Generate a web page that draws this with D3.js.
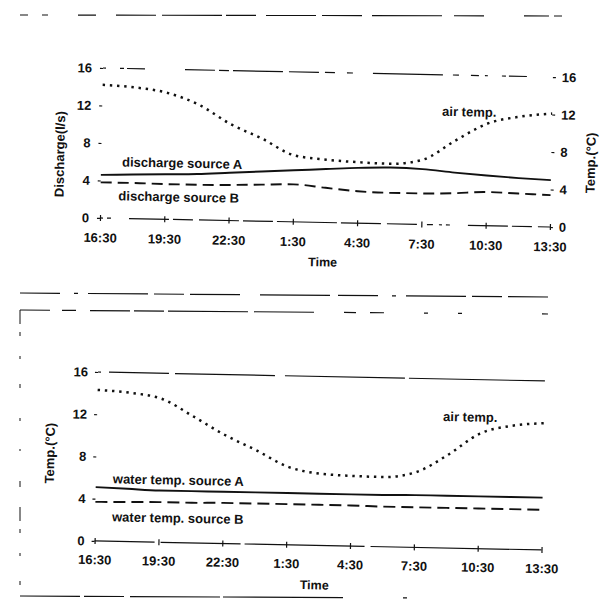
<!DOCTYPE html>
<html>
<head>
<meta charset="utf-8">
<script src="https://cdn.jsdelivr.net/npm/d3@7/dist/d3.min.js"></script>
<style>
  html, body { margin: 0; padding: 0; background: #fff; }
  svg { display: block; }
  text { font-family: "Liberation Sans", Arial, sans-serif; fill: #111; }
</style>
</head>
<body>
<svg id="chart" width="603" height="606"></svg>
<script>
// ---- data (hours after 16:30) ----
const hours = [0, 1.5, 3, 4.5, 6, 7.5, 9, 10.5, 12, 13.5, 15, 16.5, 18, 19.5, 21];
const timeTickHours = [0, 3, 6, 9, 12, 15, 18, 21];
const timeLabels = ["16:30", "19:30", "22:30", "1:30", "4:30", "7:30", "10:30", "13:30"];
const yTicks = [0, 4, 8, 12, 16];

// top panel
const dischargeA = [4.6, 4.7, 4.8, 4.9, 5.1, 5.3, 5.5, 5.7, 5.9, 6.0, 5.9, 5.6, 5.35, 5.15, 5.0];
const dischargeB = [3.8, 3.8, 3.75, 3.75, 3.8, 3.9, 4.0, 3.7, 3.4, 3.3, 3.3, 3.4, 3.6, 3.5, 3.4];
const airTempTop = [14.2, 14.0, 13.5, 12.3, 10.3, 8.8, 7.1, 6.7, 6.5, 6.4, 6.9, 9.0, 10.9, 11.7, 12.1];

// bottom panel
const airTempBottom = [14.3, 14.1, 13.6, 12.0, 10.3, 8.9, 7.4, 6.8, 6.65, 6.6, 7.1, 8.8, 10.9, 11.7, 12.0];
const waterTempA = [5.1, 5.0, 4.9, 4.9, 4.9, 4.9, 4.9, 4.9, 4.9, 4.9, 4.95, 4.95, 4.95, 4.95, 4.95];
const waterTempB = [3.7, 3.75, 3.8, 3.8, 3.85, 3.85, 3.85, 3.85, 3.85, 3.8, 3.8, 3.8, 3.8, 3.8, 3.8];

const svg = d3.select("#chart");
const ink = "#111";

// ---- scanned frame lines ----
const frame = svg.append("g").attr("stroke", ink).attr("fill", "none");
frame.append("line").attr("x1", 20).attr("y1", 15).attr("x2", 576).attr("y2", 16)
  .attr("stroke-width", 1.1).attr("stroke-dasharray", "8,14,6,30,18,20,40,6,60,4,30,10,50,6,40,10,70,12,30,40,25,5");
frame.append("line").attr("x1", 20).attr("y1", 293).attr("x2", 548).attr("y2", 297)
  .attr("stroke-width", 1.2).attr("stroke-dasharray", "40,14,4,10,60,6,30,6,50,20,70,8");
frame.append("line").attr("x1", 20).attr("y1", 310).attr("x2", 548).attr("y2", 314)
  .attr("stroke-width", 1.2).attr("stroke-dasharray", "30,12,14,14,40,4,30,4,80,6,60");
frame.append("line").attr("x1", 20).attr("y1", 310).attr("x2", 20).attr("y2", 592)
  .attr("stroke-width", 1).attr("stroke-dasharray", "14,8,4,20,3,25,4,30,3,28,2,30,6,20");
frame.append("line").attr("x1", 20).attr("y1", 596).attr("x2", 420).attr("y2", 598)
  .attr("stroke-width", 1.2).attr("stroke-dasharray", "60,4,40,6,90,3,120");

function styleAxis(a) {
  a.selectAll(".tick line").attr("stroke", ink).attr("stroke-width", 1.2);
  a.selectAll(".tick text").attr("font-size", 13).attr("font-weight", "bold").attr("fill", ink);
}

function panel(opts) {
  const g = svg.append("g").attr("transform", opts.rotate);
  const x = d3.scaleLinear().domain([0, 21]).range(opts.xr);
  const y = d3.scaleLinear().domain([0, 16]).range(opts.yr);

  g.append("line").attr("x1", x(0)).attr("x2", x(21)).attr("y1", y(16)).attr("y2", y(16))
    .attr("stroke", ink).attr("stroke-width", 1.2).attr("stroke-dasharray", opts.topDash);
  g.append("line").attr("x1", x(0)).attr("x2", x(21)).attr("y1", y(0)).attr("y2", y(0))
    .attr("stroke", ink).attr("stroke-width", 1.2).attr("stroke-dasharray", opts.botDash);

  const la = g.append("g").attr("transform", `translate(${x(0)},0)`)
    .call(d3.axisLeft(y).tickValues(yTicks).tickSize(3).tickPadding(opts.lpad));
  la.select(".domain").remove();
  styleAxis(la);

  if (opts.rightAxis) {
    const ra = g.append("g").attr("transform", `translate(${x(21)},0)`)
      .call(d3.axisRight(y).tickValues(yTicks).tickSize(3).tickPadding(6));
    ra.select(".domain").remove();
    styleAxis(ra);
  }

  const ba = g.append("g").attr("transform", `translate(0,${y(0)})`)
    .call(d3.axisBottom(x).tickValues(timeTickHours).tickFormat((d, i) => timeLabels[i])
      .tickSize(3).tickPadding(opts.bpad));
  ba.select(".domain").remove();
  ba.selectAll(".tick line").attr("y1", -3);
  styleAxis(ba);

  const line = d3.line().x((d, i) => x(hours[i])).y(d => y(d)).curve(d3.curveMonotoneX);
  const draw = (data, dash, w) => g.append("path").datum(data).attr("d", line)
    .attr("fill", "none").attr("stroke", ink).attr("stroke-width", w)
    .attr("stroke-dasharray", dash);

  return { g, x, y, draw };
}

function label(g, txt, x, y, size, rot) {
  const t = g.append("text").text(txt).attr("font-size", size).attr("font-weight", "bold");
  if (rot) t.attr("transform", `translate(${x},${y}) rotate(-90)`).attr("text-anchor", "middle");
  else t.attr("x", x).attr("y", y);
  return t;
}

// ---- top panel ----
const topPanel = panel({
  rotate: "rotate(1.15,103,68)", xr: [103, 553], yr: [218, 68],
  lpad: 8, bpad: 12, rightAxis: true,
  topDash: "3,14,4,3,18,40,30,4,10,4,50,6,30,6,10,12,6,20,70,10,6,12,8,6",
  botDash: "3,4,4,18,40,4,20,6,40,4,30,4,60,4,40,6,30,10,6,6"
});
topPanel.draw(dischargeA, null, 1.9);
topPanel.draw(dischargeB, "11,6", 1.9);
topPanel.draw(airTempTop, "2.4,4.8", 2.5);
label(topPanel.g, "discharge source A", 124, 166, 13);
label(topPanel.g, "discharge source B", 121, 200, 13);
label(topPanel.g, "air temp.", 443, 109, 13);
label(topPanel.g, "Discharge(l/s)", 66, 155, 13, true);
label(topPanel.g, "Temp.(°C)", 597, 153, 13, true);
label(topPanel.g, "Time", 312, 262, 12.5);

// ---- bottom panel ----
const botPanel = panel({
  rotate: "rotate(1.15,98,372)", xr: [98, 545], yr: [541, 372],
  lpad: 7, bpad: 11, rightAxis: false,
  topDash: "3,8,60,6,100,10,120,4,200",
  botDash: "60,6,80,4,120,6,200"
});
botPanel.draw(waterTempA, null, 1.9);
botPanel.draw(waterTempB, "12,6", 1.9);
botPanel.draw(airTempBottom, "2.4,4.8", 2.5);
label(botPanel.g, "water temp. source A", 115, 483, 13);
label(botPanel.g, "water temp. source B", 115, 521, 13);
label(botPanel.g, "air temp.", 444, 414, 13);
label(botPanel.g, "Temp.(°C)", 56, 454, 13, true);
label(botPanel.g, "Time", 304, 585, 12.5);
</script>
</body>
</html>
